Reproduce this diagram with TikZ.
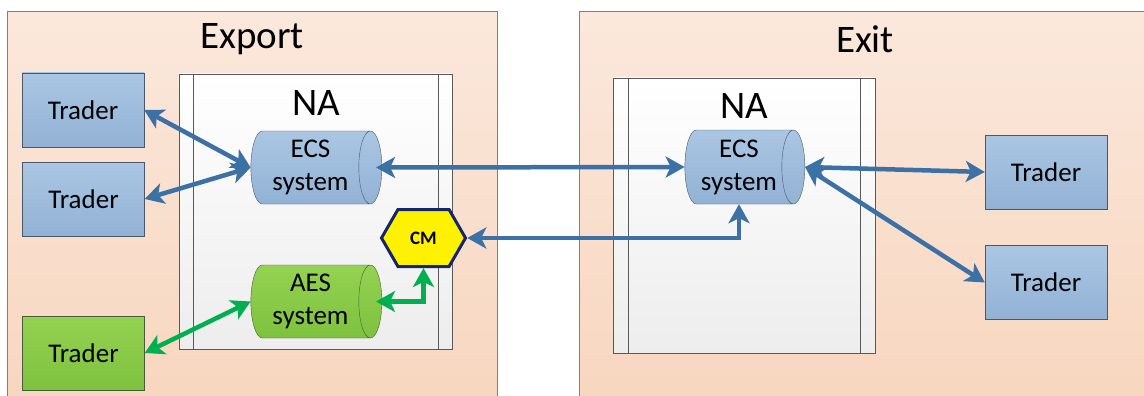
\documentclass[tikz,border=0pt]{standalone}
\usepackage{fontspec}
\setmainfont{Carlito}
\usetikzlibrary{arrows.meta,shapes.geometric,shapes.symbols}
\definecolor{blueT}{HTML}{AAC6E3}
\definecolor{blueB}{HTML}{92B2D5}
\definecolor{blueD}{HTML}{4A5868}
\definecolor{greenT}{HTML}{95D252}
\definecolor{greenB}{HTML}{7DC23E}
\definecolor{greenD}{HTML}{4B5A3C}
\definecolor{peachT}{HTML}{FBE8DC}
\definecolor{peachB}{HTML}{F7D5BD}
\definecolor{lineB}{HTML}{3C71A6}
\definecolor{lineG}{HTML}{00B050}
\definecolor{navy}{HTML}{15256A}
\tikzset{
  box/.style = {align=center, inner sep=0pt, text centered},
  trd_b/.style = {box, rectangle, draw=blueD, top color=blueT, bottom color=blueB,
    minimum width=122pt, minimum height=74pt, font=\fontsize{27}{32}\selectfont},
  trd_g/.style = {trd_b, draw=greenD, top color=greenT, bottom color=greenB},
  sys_b/.style = {box, cylinder, shape border rotate=0, aspect=0.42, draw=blueD,
    top color=blueT, bottom color=blueB, minimum width=73pt,
    font=\fontsize{27}{33}\selectfont},
  sys_g/.style = {sys_b, draw=greenD, top color=greenT, bottom color=greenB},
  panel/.style = {rectangle, draw=black!50, top color=peachT, bottom color=peachB,
    anchor=north west, minimum height=420pt},
  na_box/.style = {rectangle, draw=black!65, top color=white, bottom color=black!7,
    minimum height=275pt},
  ttl/.style = {box, font=\fontsize{39}{45}\selectfont},
  cm_hex/.style = {box, signal, signal to=east and west, signal pointer angle=120,
    draw=navy, line width=3pt, fill=yellow, minimum width=84pt, minimum height=57pt,
    font=\fontsize{19}{22}\selectfont\bfseries},
  lnk_b/.style = {draw=lineB, line width=4.5pt,
    {Stealth[length=19pt,width=21pt,inset=5pt]}-{Stealth[length=19pt,width=21pt,inset=5pt]}},
  lnk_g/.style = {lnk_b, draw=lineG},
}

\begin{document}
\begin{tikzpicture}[x=1pt, y=-1pt]
  \clip (0,0) rectangle (1144,396);
  % panels
  \node (pexp) [panel, minimum width=490pt] at (7,11) {};
  \node (pexit) [panel, minimum width=600pt] at (579,11) {};
  \node (lexp) [ttl] at (252,39) {Export};
  \node (lexit) [ttl] at (865,39) {Exit};

  % NA boxes
  \node (naA) [na_box, minimum width=273pt] at (315.5,211.5) {};
  \node (naB) [na_box, minimum width=262pt] at (744,215.5) {};
  \draw [black!65] ([xshift=14pt]naA.north west) -- ([xshift=14pt]naA.south west);
  \draw [black!65] ([xshift=-14pt]naA.north east) -- ([xshift=-14pt]naA.south east);
  \draw [black!65] ([xshift=15pt]naB.north west) -- ([xshift=15pt]naB.south west);
  \draw [black!65] ([xshift=-15pt]naB.north east) -- ([xshift=-15pt]naB.south east);
  \node (lnaA) [ttl] at (316,103) {NA};
  \node (lnaB) [ttl] at (744,106) {NA};

  % traders
  \node (t1) [trd_b] at (83,110) {Trader};
  \node (t2) [trd_b] at (83.5,199) {Trader};
  \node (t3) [trd_g] at (83.5,353) {Trader};
  \node (t4) [trd_b] at (1046,172) {Trader};
  \node (t5) [trd_b] at (1046,282.5) {Trader};

  % systems
  \node (ecsA) [sys_b, minimum height=131pt] at (310.5,167.5) {ECS\\system};
  \node (aes) [sys_g, minimum height=131pt] at (310.5,301.5) {AES\\system};
  \node (ecsB) [sys_b, minimum height=120pt, minimum width=74pt] at (739,167) {ECS\\system};
  \node (cm) [cm_hex] at (423.5,238) {CM};

  % links
  \draw [lnk_b] (t1.east) -- (ecsA.west);
  \draw [lnk_b] (t2.east) -- (ecsA.west);
  \draw [lnk_b] ([xshift=-6pt]ecsA.east) -- (ecsB.west);
  \draw [lnk_b] (cm.east) -| (ecsB.south);
  \draw [lnk_b] (ecsB.east) -- (t4.west);
  \draw [lnk_b] (ecsB.east) -- (t5.west);
  \draw [lnk_g] (t3.east) -- (aes.west);
  \draw [lnk_g] ([xshift=-6pt]aes.east) -| (cm.south);
\end{tikzpicture}
\end{document}
